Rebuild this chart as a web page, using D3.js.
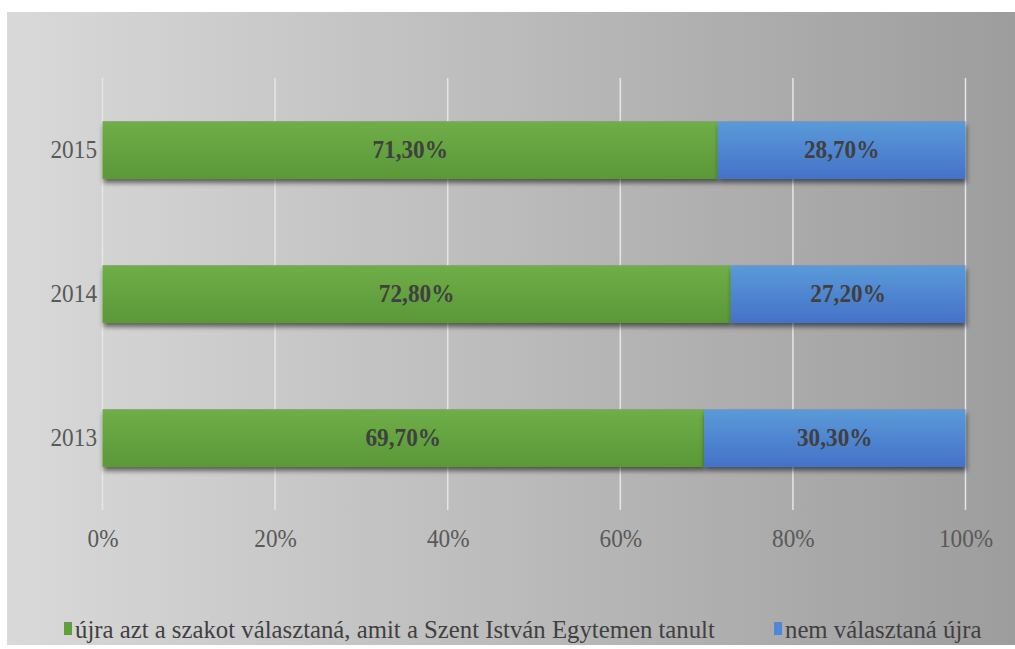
<!DOCTYPE html>
<html><head><meta charset="utf-8">
<script src="https://cdn.jsdelivr.net/npm/d3@7"></script>
<style>body{margin:0;background:#fff;} svg{display:block;}</style>
</head><body>
<script>
const years = ["2015", "2014", "2013"];
const seriesNames = ["újra azt a szakot választaná, amit a Szent István Egytemen tanult", "nem választaná újra"];
const yes = [71.3, 72.8, 69.7];
const no = [28.7, 27.2, 30.3];
const xTicks = [0, 0.2, 0.4, 0.6, 0.8, 1.0];
const labelFmt = v => v.toFixed(2).replace(".", ",") + "%";

const W = 1015, H = 649;
const FONT = '"Liberation Serif", "Times New Roman", Tinos, serif';
const FS = 25, SQ = 0.93;
const svg = d3.select("body").append("svg").attr("width", W).attr("height", H);
const defs = svg.append("defs");

const bg = defs.append("linearGradient").attr("id", "bg").attr("x1", "0").attr("x2", "1").attr("y1", "0").attr("y2", "0");
bg.append("stop").attr("offset", "0").attr("stop-color", "#d9d9d9");
bg.append("stop").attr("offset", "1").attr("stop-color", "#9d9d9d");

const gG = defs.append("linearGradient").attr("id", "gG").attr("x1", "0").attr("x2", "0").attr("y1", "0").attr("y2", "1");
gG.append("stop").attr("offset", "0").attr("stop-color", "#6fae48");
gG.append("stop").attr("offset", "1").attr("stop-color", "#5a9837");
const gB = defs.append("linearGradient").attr("id", "gB").attr("x1", "0").attr("x2", "0").attr("y1", "0").attr("y2", "1");
gB.append("stop").attr("offset", "0").attr("stop-color", "#5b9ad9");
gB.append("stop").attr("offset", "1").attr("stop-color", "#4472c8");

const sh = defs.append("filter").attr("id", "sh").attr("x", "-5%").attr("y", "-20%").attr("width", "110%").attr("height", "150%");
sh.append("feGaussianBlur").attr("in", "SourceAlpha").attr("stdDeviation", 2.5);
sh.append("feOffset").attr("dx", 1).attr("dy", 4).attr("result", "o");
sh.append("feComponentTransfer").append("feFuncA").attr("type", "linear").attr("slope", 0.55);
const mg = sh.append("feMerge"); mg.append("feMergeNode"); mg.append("feMergeNode").attr("in", "SourceGraphic");

svg.append("rect").attr("x", 7).attr("y", 12).attr("width", W - 7).attr("height", 633).attr("fill", "url(#bg)");

const x = d3.scaleLinear().domain([0, 1]).range([102.5, 965.5]);
const y = d3.scaleBand().domain(years).range([78, 510]).paddingInner(0.6).paddingOuter(0.3);

svg.append("g").selectAll("line").data(xTicks).join("line")
  .attr("x1", d => x(d)).attr("x2", d => x(d)).attr("y1", 78).attr("y2", 510)
  .attr("stroke", "#e6e6e6").attr("stroke-width", 1.5);

function styleText(sel) {
  sel.style("font-family", FONT).style("font-size", FS + "px");
}
function squeeze(sel, k) {
  const f = k || SQ;
  sel.each(function () {
    const L = this.getComputedTextLength();
    d3.select(this).attr("textLength", L * f).attr("lengthAdjust", "spacingAndGlyphs");
  });
}

const xAxis = d3.axisBottom(x).tickValues(xTicks).tickFormat(d => Math.round(d * 100) + "%").tickSize(0).tickPadding(0);
const gx = svg.append("g").attr("transform", "translate(0,529)").call(xAxis);
gx.attr("font-family", null).attr("font-size", null);
gx.select(".domain").remove();
gx.selectAll("text").call(styleText).attr("fill", "#595959").attr("dy", "0.71em").call(squeeze);

const yAxis = d3.axisLeft(y).tickSize(0).tickPadding(0);
const gy = svg.append("g").attr("transform", "translate(97,0)").call(yAxis);
gy.attr("font-family", null).attr("font-size", null);
gy.select(".domain").remove();
gy.selectAll("text").call(styleText).attr("fill", "#595959").attr("dy", "0.32em").call(squeeze);

const rows = years.map((yr, i) => ({ yr, yes: yes[i] / 100, no: no[i] / 100 }));
const bars = svg.append("g");
rows.forEach(r => {
  bars.append("rect").attr("x", x(0)).attr("y", y(r.yr)).attr("width", x(r.yes) - x(0)).attr("height", y.bandwidth())
    .attr("fill", "url(#gG)").attr("filter", "url(#sh)");
  bars.append("rect").attr("x", x(r.yes)).attr("y", y(r.yr)).attr("width", x(r.yes + r.no) - x(r.yes)).attr("height", y.bandwidth())
    .attr("fill", "url(#gB)").attr("filter", "url(#sh)");
});
const lab = svg.append("g");
rows.forEach(r => {
  lab.append("text").attr("x", (x(0) + x(r.yes)) / 2).attr("y", y(r.yr) + y.bandwidth() / 2).attr("dy", "0.33em")
    .attr("text-anchor", "middle").call(styleText).attr("font-weight", "bold").attr("fill", "#404040")
    .text(labelFmt(r.yes * 100)).call(squeeze);
  lab.append("text").attr("x", (x(r.yes) + x(r.yes + r.no)) / 2).attr("y", y(r.yr) + y.bandwidth() / 2).attr("dy", "0.33em")
    .attr("text-anchor", "middle").call(styleText).attr("font-weight", "bold").attr("fill", "#404040")
    .text(labelFmt(r.no * 100)).call(squeeze);
});

const leg = svg.append("g");
const legItems = [{ name: seriesNames[0], c: "#5fa03c", x: 64 }, { name: seriesNames[1], c: "#4f88d6", x: 774 }];
legItems.forEach(it => {
  leg.append("rect").attr("x", it.x).attr("y", 622).attr("width", 8).attr("height", 13).attr("fill", it.c);
  leg.append("text").attr("x", it.x + 11).attr("y", 638).call(styleText).attr("fill", "#404040").text(it.name).call(squeeze, 0.99);
});
</script>
</body></html>
